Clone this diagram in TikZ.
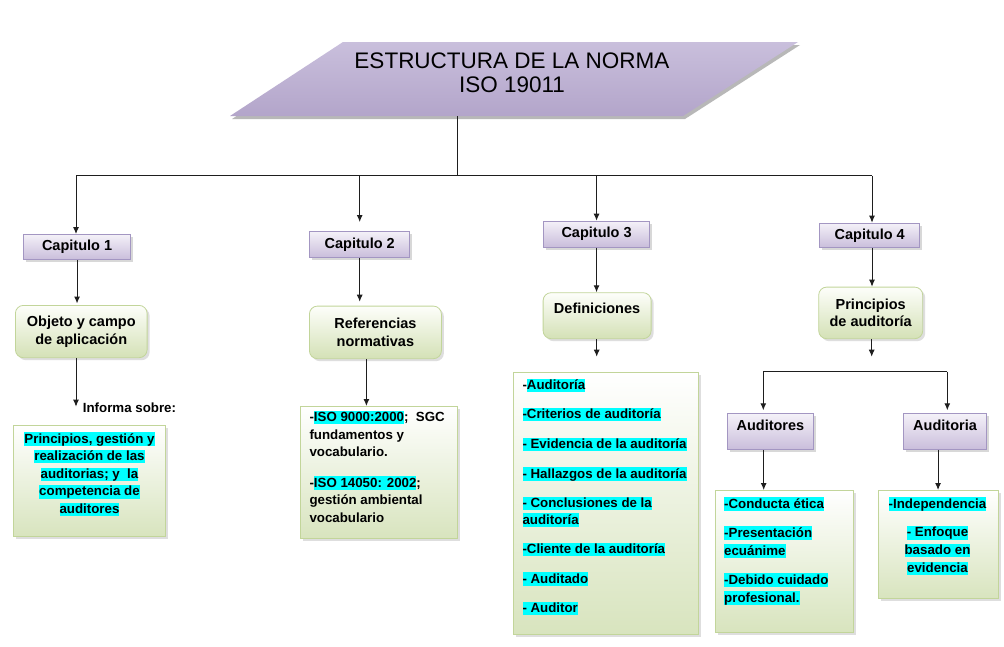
\documentclass[tikz,border=0pt]{standalone}
\usepackage{fontspec}
\setmainfont{Liberation Sans}
\usetikzlibrary{arrows.meta,shadows,calc}
\definecolor{captop}{HTML}{F4F1F8}
\definecolor{capbot}{HTML}{C9BDDB}
\definecolor{capbrd}{HTML}{A396C2}
\definecolor{grtop}{HTML}{FDFEFA}
\definecolor{grbot}{HTML}{D4E1B6}
\definecolor{grbrd}{HTML}{C2D59A}
\definecolor{lsbot}{HTML}{D8E4BE}
\definecolor{hlc}{HTML}{00FFFF}
\definecolor{linec}{HTML}{1E1E1E}
\definecolor{ttop}{HTML}{C9BFDC}
\definecolor{tmid}{HTML}{E8E4F0}
\definecolor{tbot}{HTML}{B3A5CA}
\newcommand\lblfont{\fontsize{14.5}{17.5}\selectfont\bfseries}
\newcommand\lstfontA{\fontsize{13.3}{16.3}\selectfont\bfseries}
\newcommand\lstfontB{\fontsize{13.3}{17.6}\selectfont\bfseries}
\newcommand\lstfontC{\fontsize{13.3}{18}\selectfont\bfseries}
\newcommand\hlt[1]{{\setlength{\fboxsep}{0pt}\colorbox{hlc}{\vrule height 10.8pt depth 2.5pt width 0pt#1}}}
\tikzset{
  capbox/.style={draw=capbrd, line width=0.8pt, top color=captop, bottom color=capbot,
    drop shadow={shadow xshift=2.5pt, shadow yshift=-2.5pt, fill=black!30},
    inner sep=0pt, anchor=north west, font=\lblfont, text=black},
  grbox/.style={draw=grbrd, line width=0.8pt, rounded corners=8pt, top color=grtop, bottom color=grbot,
    drop shadow={shadow xshift=2.5pt, shadow yshift=-2.5pt, fill=black!25},
    inner sep=0pt, anchor=north west, font=\lblfont, align=center, text=black},
  lsbox/.style={draw=grbrd, line width=0.8pt, top color=white, bottom color=lsbot,
    drop shadow={shadow xshift=2.5pt, shadow yshift=-2.5pt, fill=black!25},
    inner sep=0pt, anchor=north west},
  lsttext/.style={inner sep=0pt, text=black},
  conn/.style={-{Latex[length=7pt,width=6pt]}, line width=1pt, draw=linec},
  wire/.style={line width=1pt, draw=linec},
}
\begin{document}
\begin{tikzpicture}[x=1pt,y=-1pt]
\useasboundingbox (0,0) rectangle (1004,646);
\fill[white] (0,0) rectangle (1004,646);

% title parallelogram
\coordinate (tA) at (343,42);
\coordinate (tB) at (798,42);
\coordinate (tC) at (683,116);
\coordinate (tD) at (230,116);
\fill[black!28] ($(tA)+(2,3)$) -- ($(tB)+(2,3)$) -- ($(tC)+(2,3)$) -- ($(tD)+(2,3)$) -- cycle;
\shade[top color=ttop, middle color=tmid, bottom color=tbot] (tA) -- (tB) -- (tC) -- (tD) -- cycle;
\node[font=\fontsize{22.5}{24}\selectfont, align=center, inner sep=0pt] (title) at (512,73) {ESTRUCTURA DE LA NORMA\\ISO 19011};
\coordinate (titlebot) at (457,116);

% bus
\coordinate (busL) at (76,175.7);
\coordinate (busR) at (872,175.7);

% chapter boxes
\node[capbox, minimum width=106.7pt, minimum height=25.3pt] (cap1) at (23.3,234) {Capitulo 1};
\node[capbox, minimum width=100pt, minimum height=26.3pt] (cap2) at (309.3,231) {Capitulo 2};
\node[capbox, minimum width=105.7pt, minimum height=26pt] (cap3) at (543.3,220.7) {Capitulo 3};
\node[capbox, minimum width=100pt, minimum height=24.6pt] (cap4) at (819.3,222.7) {Capitulo 4};

% green label boxes
\node[grbox, minimum width=131.7pt, minimum height=52.3pt] (objeto) at (15,305) {Objeto y campo\\de aplicación};
\node[grbox, minimum width=132pt, minimum height=52.6pt] (ref) at (309,305.7) {Referencias\\normativas};
\node[grbox, minimum width=108pt, minimum height=46pt, text height=10pt, text depth=13.6pt] (def) at (542.7,292.3) {Definiciones};
\node[grbox, minimum width=104pt, minimum height=51.6pt] (princ) at (818.3,286.7) {Principios\\de auditoría};

% sub boxes of chapter 4
\node[capbox, minimum width=85.4pt, minimum height=36pt, text height=10pt, text depth=11.6pt] (auditores) at (727.3,413.3) {Auditores};
\node[capbox, minimum width=82.7pt, minimum height=36pt, text height=10pt, text depth=11.6pt] (auditoria) at (903.3,413.3) {Auditoria};

% list boxes
\node[lsbox, minimum width=151.7pt, minimum height=111pt] (l1) at (13.3,425) {};
\node[lsbox, minimum width=156.7pt, minimum height=132.3pt] (l2) at (300,406) {};
\node[lsbox, minimum width=185.6pt, minimum height=262.3pt] (l3) at (512.7,371.7) {};
\node[lsbox, minimum width=138.3pt, minimum height=141.7pt] (l4) at (715,490) {};
\node[lsbox, minimum width=119.4pt, minimum height=108.3pt] (l5) at (878.3,490) {};

% list texts
\node[lsttext, anchor=north, align=center, font=\lstfontB] (t1) at (89.5,432.1)
  {\hlt{Principios, gestión y}\\\hlt{realización de las}\\\hlt{auditorias; y~ la}\\\hlt{competencia de}\\\hlt{auditores}};
\node[lsttext, anchor=north west, align=left, font=\fontsize{13.3}{17.5}\selectfont\bfseries] (t2) at (309.3,410.7)
  {-\hlt{ISO 9000:2000};~ SGC\\fundamentos y\\vocabulario.\\[12.9pt]-\hlt{ISO 14050: 2002};\\gestión ambiental\\vocabulario};
\node[lsttext, anchor=north west, align=left, font=\lstfontA] (t3) at (522.3,378.3)
  {-\hlt{Auditoría}\\[13.3pt]\hlt{-Criterios de auditoría}\\[13.3pt]\hlt{- Evidencia de la auditoría}\\[13.3pt]\hlt{- Hallazgos de la auditoría}\\[13.3pt]\hlt{- Conclusiones de la}\\\hlt{auditoría}\\[13.3pt]\hlt{-Cliente de la auditoría}\\[13.3pt]\hlt{- Auditado}\\[13.3pt]\hlt{- Auditor}};
\node[lsttext, anchor=north west, align=left, font=\lstfontC] (t4) at (724,497.1)
  {\hlt{-Conducta ética}\\[11pt]\hlt{-Presentación}\\\hlt{ecuánime}\\[11pt]\hlt{-Debido cuidado}\\\hlt{profesional.}};
\node[lsttext, anchor=north, align=center, font=\fontsize{13.3}{17.8}\selectfont\bfseries] (t5) at (937.5,497.1)
  {\hlt{-Independencia}\\[11pt]\hlt{- Enfoque}\\\hlt{basado en}\\\hlt{evidencia}};

\node[lsttext, anchor=west, font=\lstfontA] (informa) at (82.7,407.3) {Informa sobre:};

% connectors
\draw[wire] (titlebot) -- (titlebot |- busL);
\draw[wire] (busL) -- (busR);
\draw[conn] (busL) -- (busL |- cap1.north);
\draw[conn, shorten >=9pt] (cap2.north |- busL) -- (cap2.north);
\draw[conn] (cap3.north |- busL) -- (cap3.north);
\draw[conn] (busR) -- (busR |- cap4.north);

\draw[conn, shorten >=1.5pt] (cap1.south) -- (cap1.south |- objeto.north);
\draw[conn, shorten >=4pt] (cap2.south) -- (cap2.south |- ref.north);
\draw[conn] (cap3.south) -- (cap3.south |- def.north);
\draw[conn] (busR |- cap4.south) -- (busR |- princ.north);

\coordinate (inf) at (76,406.7);
\draw[conn] (inf |- objeto.south) -- (inf);
\draw[conn] ([xshift=-9pt]ref.south) -- ([xshift=-9pt]ref.south |- l2.north);
\coordinate (defend) at (596.7,356.7);
\draw[conn] (defend |- def.south) -- (defend);
\coordinate (princend) at (871.7,356.7);
\draw[conn] (princend |- princ.south) -- (princend);

\coordinate (barL) at (763.3,371.7);
\coordinate (barR) at (947.3,371.7);
\draw[wire] (barL) -- (barR);
\draw[conn, shorten >=3pt] (barL) -- (barL |- auditores.north);
\draw[conn, shorten >=3pt] (barR) -- (barR |- auditoria.north);
\draw[conn] ([xshift=-6.7pt]auditores.south) -- ([xshift=-6.7pt]auditores.south |- l4.north);
\draw[conn] ([xshift=-7pt]auditoria.south) -- ([xshift=-7pt]auditoria.south |- l5.north);
\end{tikzpicture}
\end{document}
